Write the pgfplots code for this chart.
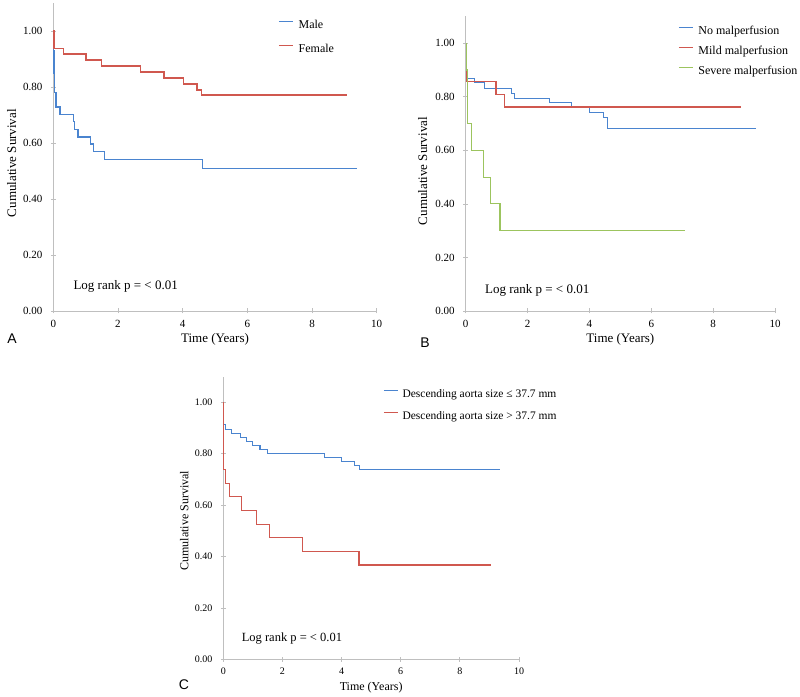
\documentclass[border=0pt]{standalone}
\usepackage{fontspec}
\setmainfont{Liberation Serif}
\newfontfamily\panelfont{Liberation Sans}
\usepackage{pgfplots}
\pgfplotsset{compat=1.18}
\definecolor{kmblue}{HTML}{4A84CF}
\definecolor{kmred}{HTML}{D0584F}
\definecolor{kmgreen}{HTML}{9CC45E}
\definecolor{axgray}{HTML}{BFBFBF}

\pgfplotsset{legend image code/.code={\draw[#1,line width=1.4pt] (0pt,3.5pt) -- (14pt,3.5pt);}}
\pgfplotsset{
  kmaxis/.style={
    scale only axis,
    axis lines=left,
    axis line style={draw=axgray,-,line width=0.8pt},
    xmin=0,xmax=10,ymin=0,ymax=1.1,
    xtick={0,2,4,6,8,10},
    ytick={0,0.2,0.4,0.6,0.8,1},
    y tick label style={/pgf/number format/.cd,fixed,fixed zerofill,precision=2,/tikz/.cd},
    /pgf/number format/assume math mode=true,
    tick align=center,
    major tick length=5pt,
    tick style={draw=axgray,line width=0.8pt},
    clip=false,
    legend cell align=left,
  }
}

\begin{document}
\begin{tikzpicture}
\useasboundingbox (0,0) rectangle (800pt,696pt);

% ---------------- Panel A ----------------
\begin{axis}[kmaxis,
  at={(53.3pt,385pt)}, anchor=south west,
  width=323.4pt, height=308pt,
  tick label style={font=\fontsize{11}{13}\selectfont},
  yticklabel style={xshift=-5pt},
  xticklabel style={yshift=-3pt},
  xlabel={Time (Years)},
  xlabel style={at={(axis description cs:0.5,0)},anchor=center,yshift=-28pt,font=\fontsize{13}{15}\selectfont},
  ylabel={Cumulative Survival},
  ylabel style={at={([xshift=-41.6pt]axis description cs:0,0.48)},anchor=center,font=\fontsize{13}{15}\selectfont},
  legend style={at={(axis description cs:0.695,0.948)},anchor=north west,draw=none,fill=none,inner sep=0pt,
    font=\fontsize{12}{14}\selectfont,row sep=12pt,
    nodes={inner sep=0pt,text height=9pt,text depth=3pt},
    /tikz/every odd column/.style={column sep=5pt}},
]
\addplot[const plot, color=kmblue, line width=1.5pt] coordinates {
(0,1.00) (0.01,0.93) (0.02,0.85) (0.04,0.78) (0.08,0.729) (0.21,0.702)
(0.62,0.676) (0.65,0.648) (0.77,0.622) (1.15,0.596) (1.24,0.569) (1.58,0.541)
(4.61,0.509) (9.38,0.509)};
\addlegendentry{Male}
\addplot[const plot, color=kmred, line width=1.5pt] coordinates {
(0,1.00) (0.02,0.938) (0.31,0.917) (1.01,0.896) (1.49,0.875) (2.70,0.853)
(3.43,0.832) (4.02,0.81) (4.45,0.79) (4.59,0.771) (9.07,0.771)};
\addlegendentry{Female}
\node[anchor=west,font=\fontsize{13}{15}\selectfont,inner sep=0pt] at (axis cs:0.62,0.089) {Log rank p = < 0.01};
\end{axis}

% ---------------- Panel B ----------------
\begin{axis}[kmaxis,
  at={(465.7pt,385pt)}, anchor=south west,
  width=309.3pt, height=294.5pt,
  tick label style={font=\fontsize{11}{13}\selectfont},
  yticklabel style={xshift=-5pt},
  xticklabel style={yshift=-3pt},
  xlabel={Time (Years)},
  xlabel style={at={(axis description cs:0.5,0)},anchor=center,yshift=-28pt,font=\fontsize{13}{15}\selectfont},
  ylabel={Cumulative Survival},
  ylabel style={at={([xshift=-43pt]axis description cs:0,0.475)},anchor=center,font=\fontsize{13}{15}\selectfont},
  legend style={at={(axis description cs:0.686,0.971)},anchor=north west,draw=none,fill=none,inner sep=0pt,
    font=\fontsize{12}{14}\selectfont,row sep=8pt,
    nodes={inner sep=0pt,text height=9pt,text depth=3pt},
    /tikz/every odd column/.style={column sep=5pt}},
]
\addplot[const plot, color=kmblue, line width=1.1pt] coordinates {
(0,1.00) (0.03,0.869) (0.27,0.853) (0.60,0.832) (1.47,0.813) (1.57,0.795)
(2.71,0.778) (3.43,0.76) (4.0,0.741) (4.45,0.722) (4.58,0.683) (9.39,0.683)};
\addlegendentry{No malperfusion}
\addplot[const plot, color=kmred, line width=1.1pt] coordinates {
(0,1.00) (0.02,0.857) (0.98,0.809) (1.25,0.762) (8.89,0.762)};
\addlegendentry{Mild malperfusion}
\addplot[const plot, color=kmgreen, line width=1.1pt] coordinates {
(0,1.00) (0.02,0.90) (0.05,0.70) (0.19,0.60) (0.57,0.50) (0.79,0.40) (1.11,0.30) (7.09,0.30)};
\addlegendentry{Severe malperfusion}
\node[anchor=west,font=\fontsize{13}{15}\selectfont,inner sep=0pt] at (axis cs:0.62,0.078) {Log rank p = < 0.01};
\end{axis}

% ---------------- Panel C ----------------
\begin{axis}[kmaxis,
  at={(223.3pt,36.7pt)}, anchor=south west,
  width=295.7pt, height=282.7pt,
  tick label style={font=\fontsize{10}{12}\selectfont},
  yticklabel style={xshift=-5pt},
  xticklabel style={yshift=-3pt},
  xlabel={Time (Years)},
  xlabel style={at={(axis description cs:0.5,0)},anchor=center,yshift=-28pt,font=\fontsize{12}{14}\selectfont},
  ylabel={Cumulative Survival},
  ylabel style={at={([xshift=-39pt]axis description cs:0,0.49)},anchor=center,font=\fontsize{12}{14}\selectfont},
  legend style={at={(axis description cs:0.54,0.96)},anchor=north west,draw=none,fill=none,inner sep=0pt,
    font=\fontsize{11.5}{13.5}\selectfont,row sep=10pt,
    nodes={inner sep=0pt,text height=9pt,text depth=3pt},
    /tikz/every odd column/.style={column sep=4pt}},
]
\addplot[const plot, color=kmblue, line width=1.1pt] coordinates {
(0,1.00) (0.01,0.912) (0.06,0.895) (0.28,0.879) (0.59,0.864) (0.79,0.848)
(0.98,0.833) (1.24,0.817) (1.49,0.802) (3.42,0.786) (4.0,0.771) (4.43,0.755)
(4.62,0.739) (9.36,0.739)};
\addlegendentry{Descending aorta size ≤ 37.7 mm}
\addplot[const plot, color=kmred, line width=1.1pt] coordinates {
(0,1.00) (0.01,0.737) (0.08,0.684) (0.20,0.632) (0.62,0.579) (1.13,0.526)
(1.56,0.474) (2.68,0.421) (4.59,0.367) (9.05,0.367)};
\addlegendentry{Descending aorta size > 37.7 mm}
\node[anchor=west,font=\fontsize{12.5}{14.5}\selectfont,inner sep=0pt] at (axis cs:0.62,0.079) {Log rank p = < 0.01};
\end{axis}

% panel letters
\node[font=\panelfont\fontsize{14}{16}\selectfont] at (12pt,357pt) {A};
\node[font=\panelfont\fontsize{14}{16}\selectfont] at (425pt,353pt) {B};
\node[font=\panelfont\fontsize{14}{16}\selectfont] at (184pt,11pt) {C};
\end{tikzpicture}
\end{document}
